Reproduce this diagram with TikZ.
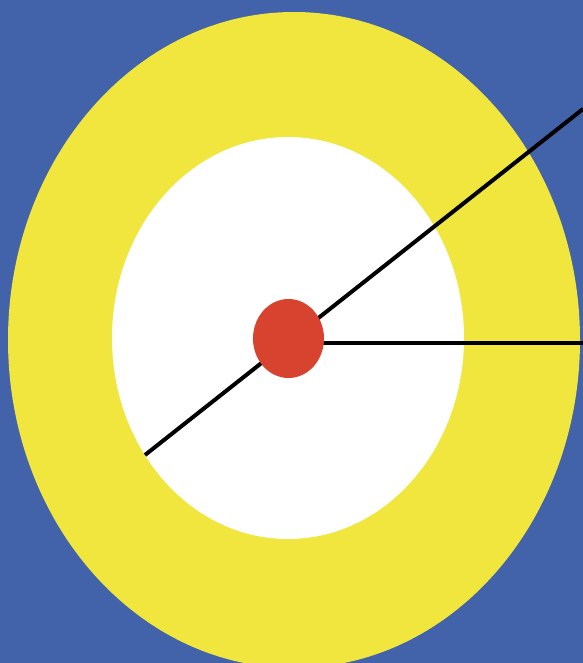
\documentclass[tikz,border=0pt]{standalone}
\usetikzlibrary{shapes.geometric}
\definecolor{BgBlue}{HTML}{4262AA}
\definecolor{RingYellow}{HTML}{F1E63E}
\definecolor{HubRed}{HTML}{D8432F}
\tikzset{
  spoke/.style={draw=black,line width=0.2cm},
  hub/.style={ellipse,fill=HubRed,inner sep=0pt,
              minimum width=3.55cm,minimum height=3.95cm}
}
\begin{document}
\begin{tikzpicture}[x=0.05cm,y=-0.05cm]
    \useasboundingbox (0,0) rectangle (583,663);
    \clip (0,0) rectangle (583,663);
    \fill[BgBlue] (0,0) rectangle (583,663);
    % target rings
    \fill[RingYellow] (294,340) ellipse [x radius=286, y radius=328];
    \fill[white] (288,338) ellipse [x radius=176, y radius=201];
    % spokes
    \coordinate (lo) at (145,455);
    \coordinate (hi) at (583,109);
    \coordinate (mid) at (300,343);
    \coordinate (tip) at (583,343);
    \draw[spoke] (lo) -- (hi);
    \draw[spoke] (mid) -- (tip);
    \node[hub] (dot) at (288.5,338.5) {};
\end{tikzpicture}
\end{document}
